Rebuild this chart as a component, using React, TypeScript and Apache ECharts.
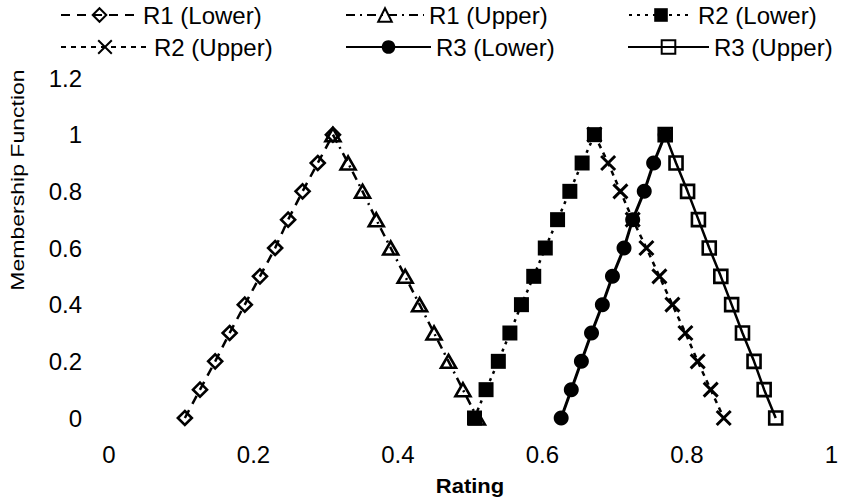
import React, { useEffect, useRef } from 'react';
import * as echarts from 'echarts';

const FONT = '"Liberation Sans", Arial, Helvetica, sans-serif';

const membershipUp = [0, 0.1, 0.2, 0.3, 0.4, 0.5, 0.6, 0.7, 0.8, 0.9, 1];
const membershipDown = [1, 0.9, 0.8, 0.7, 0.6, 0.5, 0.4, 0.3, 0.2, 0.1, 0];

const r1LowerX = [0.105, 0.126, 0.147, 0.167, 0.188, 0.209, 0.23, 0.248, 0.268, 0.289, 0.31];
const r1UpperX = [0.31, 0.331, 0.351, 0.37, 0.39, 0.41, 0.43, 0.45, 0.47, 0.49, 0.51];
const r2LowerX = [0.506, 0.522, 0.539, 0.555, 0.571, 0.588, 0.604, 0.621, 0.638, 0.655, 0.672];
const r2UpperX = [0.672, 0.691, 0.708, 0.725, 0.744, 0.762, 0.78, 0.798, 0.815, 0.833, 0.851];
const r3LowerX = [0.626, 0.64, 0.654, 0.668, 0.683, 0.697, 0.713, 0.725, 0.741, 0.754, 0.77];
const r3UpperX = [0.77, 0.785, 0.801, 0.816, 0.831, 0.847, 0.862, 0.877, 0.893, 0.907, 0.923];

const seriesNames = ['R1 (Lower)', 'R1 (Upper)', 'R2 (Lower)', 'R2 (Upper)', 'R3 (Lower)', 'R3 (Upper)'];

const pair = (xs: number[], ys: number[]) => xs.map((x, i) => [x, ys[i]]);

const CROSS = 'path://M0,0L10,10M10,0L0,10';

export default function App() {
  const ref = useRef<HTMLDivElement>(null);
  useEffect(() => {
    document.body.style.margin = '0';
    const chart = echarts.init(ref.current!, null, { renderer: 'svg' });
    const openItem = { color: 'transparent', borderColor: '#000', borderWidth: 2.6 };
    const filledItem = { color: '#000', borderColor: '#000', borderWidth: 0 };
    const legendPos = [
      { left: 60, top: 3, w: 77 },
      { left: 345, top: 3, w: 78 },
      { left: 628, top: 3, w: 64 },
      { left: 60, top: 35, w: 88 },
      { left: 345, top: 35, w: 85 },
      { left: 627, top: 35, w: 81 },
    ];
    const option: any = {
      animation: false,
      backgroundColor: '#fff',
      textStyle: { fontFamily: FONT, color: '#000' },
      legend: seriesNames.map((n, i) => ({
        data: [n],
        left: legendPos[i].left,
        top: legendPos[i].top,
        itemWidth: legendPos[i].w,
        itemHeight: 17,
        itemGap: 0,
        padding: 0,
        selectedMode: false,
        textStyle: { fontSize: 24, color: '#000', fontFamily: FONT },
      })),
      grid: { left: 109, right: 9, top: 78, bottom: 80, containLabel: false },
      xAxis: {
        type: 'value',
        min: 0,
        max: 1,
        interval: 0.2,
        axisLine: { show: false },
        axisTick: { show: false },
        splitLine: { show: false },
        axisLabel: { fontSize: 24, color: '#000', fontFamily: FONT, margin: 24 },
      },
      yAxis: {
        type: 'value',
        min: 0,
        max: 1.2,
        interval: 0.2,
        axisLine: { show: false },
        axisTick: { show: false },
        splitLine: { show: false },
        axisLabel: { fontSize: 24, color: '#000', fontFamily: FONT, margin: 27 },
      },
      graphic: [
        {
          type: 'text',
          x: 17,
          y: 180,
          rotation: Math.PI / 2,
          scaleX: 1.28,
          style: {
            text: 'Membership Function',
            font: `18px ${FONT}`,
            fill: '#000',
            align: 'center',
            verticalAlign: 'middle',
          },
        },
        {
          type: 'text',
          x: 470,
          y: 486,
          scaleX: 1.1,
          style: {
            text: 'Rating',
            font: `bold 20px ${FONT}`,
            fill: '#000',
            align: 'center',
            verticalAlign: 'middle',
          },
        },
      ],
      series: [
        {
          name: seriesNames[0],
          type: 'line',
          data: pair(r1LowerX, membershipUp),
          symbol: 'diamond',
          symbolSize: [14, 14],
          showAllSymbol: true,
          itemStyle: openItem,
          lineStyle: { color: '#000', width: 2.5, type: [9, 7] },
        },
        {
          name: seriesNames[1],
          type: 'line',
          data: pair(r1UpperX, membershipDown),
          symbol: 'triangle',
          symbolSize: [15, 13],
          showAllSymbol: true,
          itemStyle: openItem,
          lineStyle: { color: '#000', width: 2.5, type: [9, 5, 2, 5] },
        },
        {
          name: seriesNames[2],
          type: 'line',
          data: pair(r2LowerX, membershipUp),
          symbol: 'rect',
          symbolSize: [15, 15],
          showAllSymbol: true,
          itemStyle: filledItem,
          lineStyle: { color: '#000', width: 2.5, type: [3, 5] },
        },
        {
          name: seriesNames[3],
          type: 'line',
          data: pair(r2UpperX, membershipDown),
          symbol: CROSS,
          symbolSize: [14, 14],
          showAllSymbol: true,
          itemStyle: { color: 'transparent', borderColor: '#000', borderWidth: 3 },
          lineStyle: { color: '#000', width: 2.5, type: [5, 5] },
        },
        {
          name: seriesNames[4],
          type: 'line',
          data: pair(r3LowerX, membershipUp),
          symbol: 'circle',
          symbolSize: 15,
          showAllSymbol: true,
          itemStyle: filledItem,
          lineStyle: { color: '#000', width: 3, type: 'solid' },
        },
        {
          name: seriesNames[5],
          type: 'line',
          data: pair(r3UpperX, membershipDown),
          symbol: 'rect',
          symbolSize: [13, 13],
          showAllSymbol: true,
          itemStyle: openItem,
          lineStyle: { color: '#000', width: 2.5, type: 'solid' },
        },
      ],
    };
    chart.setOption(option);
    return () => chart.dispose();
  }, []);
  return <div ref={ref} style={{ width: 841, height: 498 }} />;
}
